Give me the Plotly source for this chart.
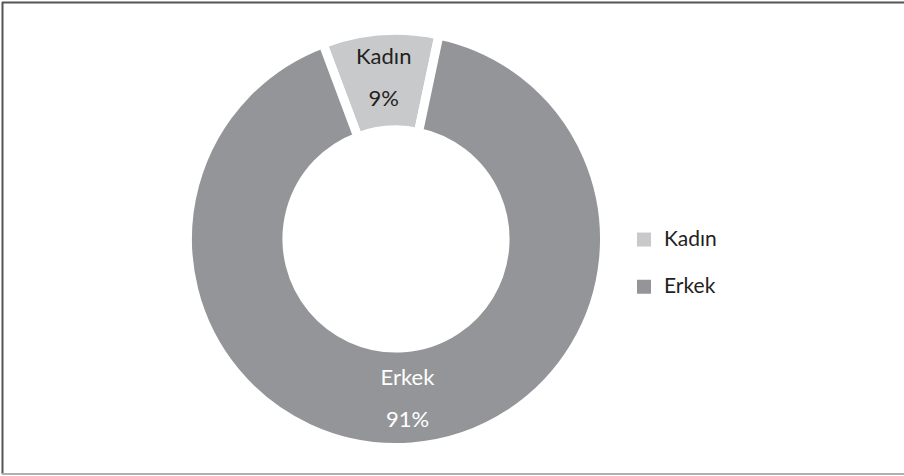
import plotly.graph_objects as go

categories = ["Kadın", "Erkek"]
shares = [9, 91]
slice_colors = ["#c8c9cb", "#939598"]
label_colors = ["#231f20", "#ffffff"]

W, H = 904, 476
FONT = "Lato, 'Open Sans', sans-serif"

def px(x):
    return x / W

def py(y):
    return 1 - y / H

cx, cy, R = 396, 239, 208.5

fig = go.Figure(
    go.Pie(
        labels=[f"<span style='font-size:21px'>{c}</span><br> " for c in categories],
        values=shares,
        customdata=categories,
        sort=False,
        direction="clockwise",
        rotation=-20.5,
        hole=0.523,
        marker=dict(colors=slice_colors, line=dict(color="#ffffff", width=9)),
        texttemplate="<span style='font-size:22px'>%{customdata}</span><br><br>"
                     "<span style='font-size:22px'>%{value}%</span>",
        textposition="inside",
        insidetextorientation="horizontal",
        textfont=dict(family=FONT, size=16, color=label_colors),
        hovertemplate="%{customdata}: %{value}%<extra></extra>",
        domain=dict(x=[px(cx - R), px(cx + R)], y=[py(cy + R), py(cy - R)]),
    )
)

fig.update_layout(
    width=W,
    height=H,
    margin=dict(l=0, r=0, t=0, b=0),
    paper_bgcolor="white",
    plot_bgcolor="white",
    font=dict(family=FONT, color="#231f20"),
    legend=dict(
        x=px(624), y=py(222), xanchor="left", yanchor="top",
        font=dict(family=FONT, size=17, color="#231f20"),
        valign="top",
        bgcolor="rgba(0,0,0,0)",
    ),
    shapes=[
        dict(type="line", xref="paper", yref="paper", x0=px(2.5), x1=px(2.5), y0=py(2), y1=py(474),
             line=dict(color="#555555", width=2)),
        dict(type="line", xref="paper", yref="paper", x0=px(2), x1=px(904), y0=py(2.5), y1=py(2.5),
             line=dict(color="#555555", width=2)),
        dict(type="line", xref="paper", yref="paper", x0=px(2), x1=px(904), y0=py(474), y1=py(474),
             line=dict(color="#b0b0b0", width=2)),
    ],
)

fig.write_html(
    "out.html",
    config={"displayModeBar": False},
    post_script=(
        "document.body.style.margin='0';document.body.style.overflow='hidden';"
        "document.querySelectorAll('.legendpoints path').forEach(function(p){"
        "p.style.strokeWidth='0';p.setAttribute('d','M7,7V-7H-7V7Z');});"
    ),
)
